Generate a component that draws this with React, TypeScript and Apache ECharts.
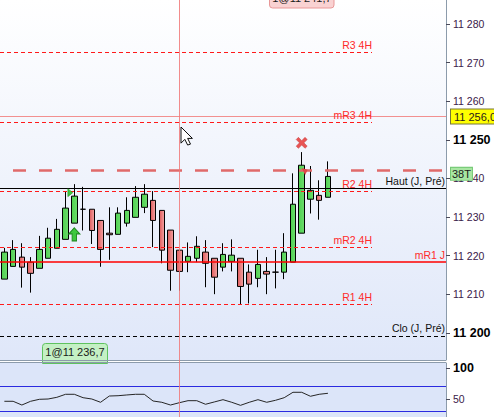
import React, { useEffect, useRef } from 'react';
import * as echarts from 'echarts';

// ---- data ----
const slots = ['1','2','3','4','5','6','7','8','9','10','11','12','13','14','15','16','17','18','19','20','21','22','23','24','25','26','27','28','29','30','31','32','33','34','35','36','37','38','39','40','41','42','43','44','45','46','47','48','49','50','51'];

const opens = [11213.9, 11217.2, 11219.6, 11218.3, 11216.7, 11219.3, 11221.9, 11224.2, 11228.4, 11232.0, 11232.0, 11229.1, 11225.8, 11225.5, 11228.4, 11229.9, 11232.5, 11234.3, 11231.7, 11226.6, 11221.4, 11218.5, 11219.3, 11220.9, 11219.3, 11217.0, 11218.5, 11219.3, 11215.7, 11214.1, 11215.9, 11215.7, 11215.7, 11218.3, 11225.8, 11234.6, 11235.6, 11235.1];
const closes = [11220.9, 11221.6, 11217.0, 11215.4, 11221.6, 11224.5, 11226.8, 11232.3, 11235.4, 11232.0, 11226.5, 11221.6, 11225.4, 11231.0, 11231.7, 11235.1, 11235.9, 11229.1, 11221.4, 11216.2, 11215.9, 11219.8, 11222.4, 11218.0, 11214.4, 11220.3, 11220.1, 11212.0, 11212.6, 11217.7, 11215.2, 11215.7, 11220.9, 11233.3, 11243.4, 11236.9, 11234.3, 11240.5];
const lows = [11213.9, 11217.2, 11211.7, 11210.4, 11216.7, 11219.3, 11221.9, 11224.2, 11228.4, 11226.5, 11223.0, 11217.1, 11218.9, 11225.5, 11227.5, 11229.9, 11231.0, 11222.2, 11218.0, 11210.9, 11210.9, 11215.7, 11218.3, 11211.8, 11210.0, 11215.9, 11215.9, 11207.2, 11207.6, 11211.8, 11210.0, 11211.5, 11213.9, 11218.3, 11225.8, 11230.9, 11229.3, 11235.1];
const highs = [11222.0, 11224.0, 11223.2, 11219.6, 11225.1, 11227.2, 11229.5, 11236.7, 11238.5, 11237.8, 11232.0, 11229.1, 11232.5, 11232.5, 11235.1, 11238.0, 11238.5, 11236.7, 11231.7, 11226.6, 11221.4, 11223.4, 11225.0, 11224.0, 11219.3, 11223.2, 11224.2, 11219.3, 11217.7, 11221.5, 11219.6, 11221.5, 11225.8, 11241.3, 11246.8, 11243.2, 11239.5, 11244.4];

const oscillator = [46.3, 46.3, 40.3, 46.3, 49.5, 50.0, 52.7, 57.6, 57.6, 52.1, 50.0, 44.7, 54.8, 55.3, 56.5, 57.6, 57.6, 46.8, 44.7, 40.3, 44.0, 47.3, 47.3, 41.5, 45.2, 48.9, 44.7, 39.8, 44.7, 48.9, 44.7, 47.9, 52.1, 60.8, 60.8, 54.4, 57.6, 59.2];

const priceTicks = [11200, 11210, 11220, 11230, 11240, 11250, 11260, 11270, 11280];
const boldPriceTicks = [11200, 11250];
const oscTicks = [50, 100];
const oscBands = [70, 30];

// levels drawn as horizontal lines
const shortLevelNames = ['R3 4H', 'mR3 4H', 'R2 4H', 'mR2 4H', 'R1 4H'];
const shortLevelValues = [11272.7, 11254.5, 11236.6, 11222.1, 11207.4];
const dayHigh = 11237.4; // Haut (J, Pré)
const dayClose = 11199.2; // Clo (J, Pré)
const dayMR1 = 11218.3; // mR1 J
const orderLevel = 11242.2;
const cursorPrice = 11256.0;

// ---- cursor shape ----
echarts.graphic.registerShape(
  'cursorArrow',
  echarts.graphic.extendPath('M0,0 L0,17 L4,13 L7,19 L10,18 L7,12 L12,12 Z', {})
);

const FONT = '"Liberation Sans", Arial, Helvetica, sans-serif';
const PLOT_W = 446;
const SHORT_END = 372;
const Y_MIN = 11192.95;
const Y_MAX = 11286.2;

function fmtPrice(v: number) {
  const s = String(Math.round(v));
  return s.slice(0, s.length - 3) + ' ' + s.slice(-3);
}

function buildOption() {
  const candleData = opens.map((o, i) => [o, closes[i], lows[i], highs[i]]);

  const redFill = new echarts.graphic.LinearGradient(0, 0, 1, 0, [
    { offset: 0, color: '#df5b5b' },
    { offset: 1, color: '#f3a3a3' },
  ]);
  const greenFill = new echarts.graphic.LinearGradient(0, 0, 1, 0, [
    { offset: 0, color: '#4fd04f' },
    { offset: 1, color: '#6cdc6c' },
  ]);

  const redDash = { color: '#ff1a1a', width: 1, type: [4, 3] };
  const levelLines: any[] = shortLevelNames.map((name, i) => [
    {
      coord: [0, shortLevelValues[i]],
      lineStyle: redDash,
      label: {
        show: true,
        position: 'insideEndTop',
        formatter: name,
        color: '#ff2a2a',
        fontSize: 10.5,
        fontFamily: FONT,
        distance: [0, 2],
      },
    },
    { coord: [SHORT_END, shortLevelValues[i]] },
  ]);

  levelLines.push([
    {
      coord: [0, cursorPrice],
      lineStyle: { color: '#f29090', width: 1, type: 'solid' },
      label: {
        show: true,
        position: 'end',
        formatter: '11 256,0',
        color: '#2a1a1a',
        fontSize: 11,
        fontFamily: FONT,
        backgroundColor: '#ffff00',
        borderColor: '#77773a',
        borderWidth: 1,
        padding: [2, 3, 1, 3],
        distance: 5,
      },
    },
    { coord: [PLOT_W, cursorPrice] },
  ]);

  levelLines.push([
    {
      coord: [0, orderLevel],
      lineStyle: { color: '#e06a6a', width: 2.5, type: [13, 13], dashOffset: 13 },
      label: {
        show: true,
        position: 'end',
        formatter: '38T',
        color: '#1a1a1a',
        fontSize: 11,
        fontFamily: FONT,
        backgroundColor: '#a8e6a2',
        borderColor: '#74c874',
        borderWidth: 1,
        padding: [1, 1, 0, 1],
        distance: 5,
        offset: [0, 4],
      },
    },
    { coord: [PLOT_W, orderLevel] },
  ]);

  levelLines.push([
    {
      coord: [0, dayHigh],
      lineStyle: { color: '#000', width: 1, type: 'solid' },
      label: {
        show: true,
        position: 'insideEndTop',
        formatter: 'Haut (J, Pré)',
        color: '#111',
        fontSize: 10.5,
        fontFamily: FONT,
        distance: [1, 2],
      },
    },
    { coord: [PLOT_W, dayHigh] },
  ]);

  levelLines.push([
    {
      coord: [0, dayMR1],
      lineStyle: { color: '#ff0000', width: 1.5, type: 'solid' },
      label: {
        show: true,
        position: 'insideEndTop',
        formatter: 'mR1 J',
        color: '#ff2a2a',
        fontSize: 10.5,
        fontFamily: FONT,
        distance: [1, 2],
      },
    },
    { coord: [PLOT_W, dayMR1] },
  ]);

  levelLines.push([
    {
      coord: [0, dayClose],
      lineStyle: { color: '#000', width: 1, type: [4, 3] },
      label: {
        show: true,
        position: 'insideEndTop',
        formatter: 'Clo (J, Pré)',
        color: '#111',
        fontSize: 10.5,
        fontFamily: FONT,
        distance: [1, 2],
      },
    },
    { coord: [PLOT_W, dayClose] },
  ]);

  return {
    animation: false,
    backgroundColor: '#ffffff',
    textStyle: { fontFamily: FONT },
    grid: [
      { left: 0, top: 0, width: PLOT_W, height: 360, show: false },
      { left: 0, top: 363, width: PLOT_W, height: 54, show: false },
    ],
    xAxis: [
      { type: 'category', gridIndex: 0, data: slots, boundaryGap: true, show: false },
      { type: 'category', gridIndex: 1, data: slots, boundaryGap: true, show: false },
      { type: 'value', gridIndex: 0, min: 0, max: PLOT_W, show: false },
    ],
    yAxis: [
      {
        type: 'value',
        gridIndex: 0,
        position: 'right',
        min: Y_MIN,
        max: Y_MAX,
        axisLine: { show: true, onZero: false, lineStyle: { color: '#8c9bab', width: 1 } },
        axisTick: { show: true, length: 4, customValues: priceTicks, lineStyle: { color: '#4a4a5a' } },
        splitLine: { show: false },
        axisLabel: {
          customValues: priceTicks,
          margin: 7,
          formatter: (v: number) =>
            boldPriceTicks.indexOf(Math.round(v)) >= 0 ? '{b|' + fmtPrice(v) + '}' : '{n|' + fmtPrice(v) + '}',
          rich: {
            b: { fontSize: 12.5, fontWeight: 'bold', color: '#000', fontFamily: FONT },
            n: { fontSize: 10.5, color: '#3a2048', fontFamily: FONT },
          },
        },
      },
      {
        type: 'value',
        gridIndex: 1,
        position: 'right',
        min: 21,
        max: 108,
        axisLine: { show: true, onZero: false, lineStyle: { color: '#8c9bab', width: 1 } },
        axisTick: { show: true, length: 4, customValues: oscTicks, lineStyle: { color: '#4a4a5a' } },
        splitLine: { show: false },
        axisLabel: {
          customValues: oscTicks,
          margin: 7,
          formatter: (v: number) => (Math.round(v) === 100 ? '{b|100}' : '{n|' + Math.round(v) + '}'),
          rich: {
            b: { fontSize: 12.5, fontWeight: 'bold', color: '#000', fontFamily: FONT },
            n: { fontSize: 10.5, color: '#3a2048', fontFamily: FONT },
          },
        },
      },
    ],
    series: [
      {
        type: 'line',
        xAxisIndex: 2,
        yAxisIndex: 0,
        data: [[0, Y_MIN]],
        symbol: 'none',
        silent: true,
        lineStyle: { opacity: 0 },
        markLine: {
          silent: true,
          symbol: ['none', 'none'],
          animation: false,
          data: levelLines,
        },
        z: 1,
      },
      {
        type: 'candlestick',
        xAxisIndex: 0,
        yAxisIndex: 0,
        data: candleData,
        barWidth: 6,
        itemStyle: {
          color: greenFill,
          color0: redFill,
          borderColor: '#000',
          borderColor0: '#000',
          borderColorDoji: '#000',
          borderWidth: 1,
        },
        markPoint: {
          silent: true,
          animation: false,
          label: { show: false },
          data: [
            {
              coord: [8, 11225.5],
              symbol: 'path://M5,0 L10,6 L7,6 L7,13 L3,13 L3,6 L0,6 Z',
              symbolSize: [11, 13],
              itemStyle: { color: '#3ec83e', borderColor: '#1d8a1d', borderWidth: 1 },
            },
            {
              coord: [8, 11236.3],
              symbol: 'path://M0,0 L6,4 L0,8 Z',
              symbolSize: [5, 8],
              symbolOffset: [-4, 0],
              itemStyle: { color: '#3ec83e', borderColor: '#1d8a1d', borderWidth: 0.5 },
            },
            {
              coord: [34, 11249.2],
              symbol: 'path://M2,0 L5,3 L8,0 L10,2 L7,5 L10,8 L8,10 L5,7 L2,10 L0,8 L3,5 L0,2 Z',
              symbolSize: [11, 11],
              itemStyle: { color: '#e85454', borderColor: '#c43a3a', borderWidth: 0.5 },
            },
            {
              coord: [34, 11241.8],
              symbol: 'path://M0,0 L7,2 L4,8 Z',
              symbolSize: [6, 7],
              symbolOffset: [3, 0],
              itemStyle: { color: '#e04848' },
            },
          ],
        },
        z: 3,
      },
      {
        type: 'line',
        xAxisIndex: 1,
        yAxisIndex: 1,
        data: oscillator,
        symbol: 'none',
        silent: true,
        lineStyle: { color: '#262626', width: 1 },
        markLine: {
          silent: true,
          symbol: ['none', 'none'],
          animation: false,
          label: { show: false },
          lineStyle: { color: '#2a2ae0', width: 1, type: 'solid' },
          data: oscBands.map((v) => ({ yAxis: v })),
        },
      },
    ],
    graphic: [
      {
        type: 'rect',
        z: -10,
        silent: true,
        shape: { x: 0, y: 0, width: PLOT_W, height: 360 },
        style: {
          fill: new echarts.graphic.LinearGradient(0, 0, 0, 1, [
            { offset: 0, color: '#ffffff' },
            { offset: 1, color: '#dfe7f9' },
          ]),
        },
      },
      {
        type: 'rect',
        z: -10,
        silent: true,
        shape: { x: 0, y: 363, width: PLOT_W, height: 54 },
        style: { fill: '#dce5f9' },
      },
      {
        type: 'rect',
        z: 10,
        silent: true,
        shape: { x: 42.5, y: 343.5, width: 65, height: 20, r: [3, 3, 0, 0] },
        style: { fill: '#c4f0c4', stroke: '#5fc25f', lineWidth: 1 },
      },
      {
        type: 'text',
        z: 11,
        silent: true,
        x: 75,
        y: 352,
        style: {
          text: '1@11 236,7',
          fill: '#1a1a1a',
          font: '11px ' + FONT,
          align: 'center',
          verticalAlign: 'middle',
        },
      },
      {
        type: 'rect',
        z: 10,
        silent: true,
        shape: { x: 269.5, y: -10, width: 64.5, height: 18, r: 3 },
        style: { fill: '#f9d2d2', stroke: '#e89898', lineWidth: 1 },
      },
      {
        type: 'text',
        z: 11,
        silent: true,
        x: 302,
        y: -2,
        style: {
          text: '1@11 241,7',
          fill: '#1a1a1a',
          font: '11px ' + FONT,
          align: 'center',
          verticalAlign: 'middle',
        },
      },
      {
        type: 'line',
        z: 12,
        silent: true,
        shape: { x1: 0, y1: 360.5, x2: PLOT_W, y2: 360.5 },
        style: { stroke: '#8c9bab', lineWidth: 1 },
      },
      {
        type: 'line',
        z: 12,
        silent: true,
        shape: { x1: 0, y1: 362.5, x2: PLOT_W, y2: 362.5 },
        style: { stroke: '#8c9bab', lineWidth: 1 },
      },
      {
        type: 'line',
        z: 13,
        silent: true,
        shape: { x1: 179.5, y1: 0, x2: 179.5, y2: 417 },
        style: { stroke: 'rgba(240,120,120,0.85)', lineWidth: 1 },
      },
      {
        type: 'cursorArrow',
        z: 20,
        silent: true,
        x: 181,
        y: 127,
        scaleX: 0.95,
        scaleY: 0.95,
        style: { fill: '#ffffff', stroke: '#000000', lineWidth: 1 },
      },
    ],
  };
}

export default function App() {
  const ref = useRef<HTMLDivElement>(null);
  useEffect(() => {
    if (!ref.current) return;
    const chart = echarts.init(ref.current, undefined, { renderer: 'svg' });
    chart.setOption(buildOption() as any);
    return () => chart.dispose();
  }, []);
  return (
    <div
      ref={ref}
      style={{ position: 'fixed', left: 0, top: 0, width: 494, height: 417 }}
    />
  );
}
